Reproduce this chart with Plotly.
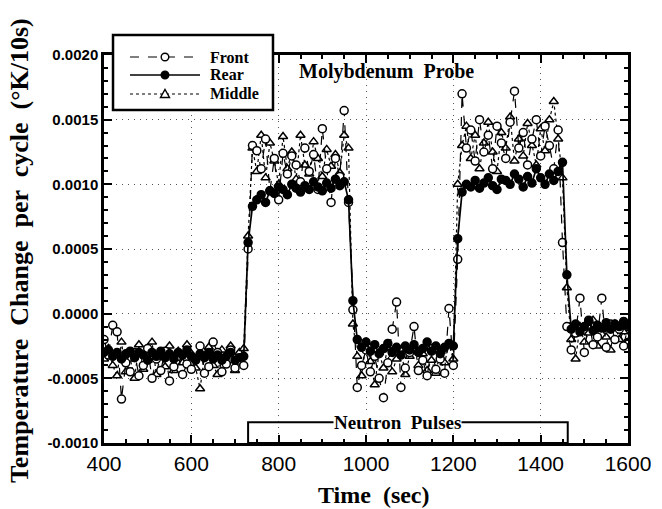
import plotly.graph_objects as go

time_s = list(range(400, 1601, 10))

front = [
    -0.00020, -0.00032, -0.00009, -0.00014, -0.00066, -0.00038, -0.00045, -0.00030, -0.00048, -0.00040,
    -0.00027, -0.00050, -0.00035, -0.00044, -0.00029, -0.00052, -0.00041, -0.00033, -0.00047, -0.00039,
    -0.00043, -0.00035, -0.00025, -0.00046, -0.00041, -0.00022, -0.00030, -0.00045, -0.00039, -0.00028,
    -0.00042, -0.00036, -0.00040,
    0.00050,
    0.00130, 0.00126, 0.00112, 0.00135, 0.00095, 0.00120, 0.00088, 0.00124, 0.00108, 0.00122,
    0.00115, 0.00102, 0.00128, 0.00110, 0.00123, 0.00096, 0.00143, 0.00112, 0.00086, 0.00120,
    0.00106, 0.00157,
    0.00086, 0.00003,
    -0.00057, -0.00040, -0.00028, -0.00045, -0.00033, -0.00050, -0.00065, -0.00038, -0.00012, 0.00009,
    -0.00057, -0.00042, -0.00030, -0.00010, -0.00044, -0.00036, -0.00048, -0.00027, -0.00043, -0.00035,
    -0.00046, 0.00004,
    -0.00040, 0.00042,
    0.00170, 0.00128, 0.00142, 0.00118, 0.00150, 0.00125, 0.00138, 0.00112, 0.00145, 0.00132,
    0.00120, 0.00148, 0.00172, 0.00128, 0.00140, 0.00115, 0.00135, 0.00150, 0.00122, 0.00145,
    0.00130, 0.00112, 0.00142,
    0.00055, -0.00010,
    -0.00028, -0.00015, 0.00012, -0.00030, -0.00005, -0.00024, -0.00018, 0.00012, -0.00026, -0.00008,
    -0.00020, -0.00012, -0.00025, -0.00010,
]

rear = [
    -0.00030, -0.00028, -0.00033, -0.00030, -0.00035, -0.00031, -0.00029, -0.00034, -0.00030, -0.00032,
    -0.00036, -0.00030, -0.00033, -0.00029, -0.00034, -0.00031, -0.00035, -0.00030, -0.00032, -0.00028,
    -0.00033, -0.00036, -0.00031, -0.00034, -0.00030, -0.00035, -0.00032, -0.00036, -0.00033, -0.00030,
    -0.00036, -0.00034, -0.00033,
    0.00055,
    0.00083, 0.00088, 0.00092, 0.00086, 0.00095, 0.00093, 0.00098, 0.00096, 0.00092, 0.00100,
    0.00097, 0.00094, 0.00099, 0.00096, 0.00102, 0.00098, 0.00095, 0.00101, 0.00097, 0.00104,
    0.00099, 0.00102,
    0.00088, 0.00010,
    -0.00020, -0.00026, -0.00022, -0.00029, -0.00024, -0.00031, -0.00027, -0.00023, -0.00030, -0.00026,
    -0.00032, -0.00025, -0.00028, -0.00024, -0.00030, -0.00027, -0.00022, -0.00029, -0.00025, -0.00031,
    -0.00026, -0.00023,
    -0.00025, 0.00058,
    0.00094, 0.00100, 0.00098, 0.00103, 0.00097, 0.00101, 0.00105, 0.00099, 0.00096, 0.00104,
    0.00103, 0.00100, 0.00108, 0.00104, 0.00098, 0.00106, 0.00101, 0.00112, 0.00105, 0.00100,
    0.00108, 0.00103, 0.00110,
    0.00117, 0.00030,
    -0.00012, -0.00008, -0.00014, -0.00010, -0.00006, -0.00013, -0.00009, -0.00011, -0.00007, -0.00012,
    -0.00008, -0.00010, -0.00006, -0.00009,
]

middle = [
    -0.00035, -0.00027, -0.00040, -0.00048, -0.00022, -0.00045, -0.00035, -0.00050, -0.00024, -0.00043,
    -0.00036, -0.00022, -0.00047, -0.00030, -0.00041, -0.00025, -0.00044, -0.00029, -0.00038, -0.00024,
    -0.00031, -0.00042, -0.00058, -0.00033, -0.00026, -0.00040, -0.00047, -0.00028, -0.00037, -0.00025,
    -0.00044, -0.00030, -0.00027,
    0.00060,
    0.00128, 0.00110, 0.00138, 0.00105, 0.00132, 0.00118, 0.00100, 0.00137, 0.00112, 0.00125,
    0.00104, 0.00138, 0.00115, 0.00108, 0.00133, 0.00120, 0.00106, 0.00127, 0.00114, 0.00123,
    0.00109, 0.00138,
    0.00128, -0.00008,
    -0.00033, -0.00048, -0.00022, -0.00037, -0.00055, -0.00030, -0.00042, -0.00026, -0.00045, -0.00035,
    -0.00028, -0.00047, -0.00033, -0.00025, -0.00040, -0.00031, -0.00044, -0.00036, -0.00046, -0.00029,
    -0.00038, -0.00024,
    -0.00035, 0.00100,
    0.00130, 0.00145, 0.00120, 0.00138, 0.00112, 0.00132, 0.00148, 0.00125, 0.00110, 0.00140,
    0.00128, 0.00152, 0.00118, 0.00135, 0.00122, 0.00147, 0.00130, 0.00115, 0.00143, 0.00126,
    0.00150, 0.00164, 0.00135,
    0.00105, 0.00020,
    -0.00020, -0.00035, -0.00010, -0.00022, -0.00015, -0.00005, -0.00025, -0.00012, -0.00018, -0.00028,
    -0.00008, -0.00020, -0.00014, -0.00022,
]

y_ticks = [-0.0010, -0.0005, 0.0, 0.0005, 0.0010, 0.0015, 0.0020]
y_tick_text = ["-0.0010", "-0.0005", "0.0000", "0.0005", "0.0010", "0.0015", "0.0020"]
x_ticks = [400, 600, 800, 1000, 1200, 1400, 1600]
pulse_start, pulse_end = 730, 1462
legend_names = ["Front", "Rear", "Middle"]

SERIF = "Liberation Serif"
SANS = "Liberation Sans"

series = [
    # name, values, line dash, marker symbol, marker fill
    ("Middle", middle, "dot", "triangle-up", "white"),
    ("Front", front, "dash", "circle", "white"),
    ("Rear", rear, "solid", "circle", "black"),
]

fig = go.Figure()
for name, vals, dash, sym, fill in series:
    fig.add_trace(go.Scatter(
        x=time_s, y=vals, name=name, mode="lines+markers", showlegend=False,
        line=dict(color="black", width=1.7 if dash == "solid" else 1.2, dash=dash),
        marker=dict(symbol=sym, size=8, color=fill, line=dict(color="black", width=1.5)),
    ))

# Neutron pulse bracket
fig.add_shape(type="rect", xref="x", yref="y", x0=pulse_start, x1=pulse_end,
              y0=-0.0010, y1=-0.00084, line=dict(color="black", width=2), fillcolor="rgba(0,0,0,0)")
fig.add_annotation(x=1073, y=-0.00084, xref="x", yref="y", text="Neutron  Pulses",
                   showarrow=False, bgcolor="white", borderpad=0, yanchor="middle",
                   font=dict(family=SERIF, size=19, color="black", weight="bold"))
fig.add_annotation(x=1048, y=0.00187, xref="x", yref="y", text="Molybdenum  Probe",
                   showarrow=False, yanchor="middle",
                   font=dict(family=SERIF, size=20, color="black", weight="bold"))

# Axis titles
fig.add_annotation(x=-0.160, y=0.495, xref="paper", yref="paper", textangle=-90,
                   xanchor="center", yanchor="middle",
                   text="Temperature  Change  per  cycle  (°K/10s)", showarrow=False,
                   font=dict(family=SERIF, size=26, color="black", weight="bold"))
fig.add_annotation(x=0.515, y=-0.134, xref="paper", yref="paper", text="Time  (sec)",
                   xanchor="center", yanchor="middle",
                   showarrow=False, font=dict(family=SERIF, size=24, color="black", weight="bold"))

# Hand-drawn legend box (paper coords)
fig.add_shape(type="rect", xref="paper", yref="paper", x0=0.0172, x1=0.3225, y0=0.858, y1=1.0515,
              line=dict(color="black", width=2.5), fillcolor="white", layer="above")
row_y = [0.9948, 0.9485, 0.8995]
line_x0, line_x1, mark_x, text_x = 0.0496, 0.1832, 0.1164, 0.1985
legend_style = {"Front": ("dash", "circle", "white"),
                "Rear": ("solid", "circle", "black"),
                "Middle": ("dot", "triangle", "white")}
for name, ry in zip(legend_names, row_y):
    dash, sym, fill = legend_style[name]
    fig.add_shape(type="line", xref="paper", yref="paper", x0=line_x0, x1=line_x1, y0=ry, y1=ry,
                  line=dict(color="black", width=1.7 if dash == "solid" else 1.2, dash=dash), layer="above")
    if sym == "circle":
        fig.add_shape(type="circle", xref="paper", yref="paper", xsizemode="pixel", ysizemode="pixel",
                      xanchor=mark_x, yanchor=ry, x0=-3.8, x1=3.8, y0=-3.8, y1=3.8,
                      line=dict(color="black", width=1.4), fillcolor=fill, layer="above")
    else:
        fig.add_shape(type="path", xref="paper", yref="paper", xsizemode="pixel", ysizemode="pixel",
                      xanchor=mark_x, yanchor=ry, path="M-4.5,-3.5 L4.5,-3.5 L0,4.5 Z",
                      line=dict(color="black", width=1.4), fillcolor=fill, layer="above")
    fig.add_annotation(x=text_x, y=ry, xref="paper", yref="paper", text=name, showarrow=False,
                       xanchor="left", yanchor="middle",
                       font=dict(family=SERIF, size=16, color="black", weight="bold"))

axis_common = dict(
    showline=True, linecolor="black", linewidth=2.5, mirror="ticks",
    ticks="inside", ticklen=8, tickwidth=1.5, tickcolor="black",
    showgrid=True, gridcolor="#555555", griddash="1px,5px", gridwidth=1,
    zeroline=False,
)
fig.update_xaxes(range=[400, 1600], tickvals=x_ticks,
                 minor=dict(dtick=50, ticks="inside", ticklen=4, tickcolor="black", showgrid=False),
                 tickfont=dict(family=SANS, size=21, color="black"), **axis_common)
fig.update_yaxes(range=[-0.0010, 0.0020], tickvals=y_ticks, ticktext=y_tick_text,
                 minor=dict(dtick=0.0001, ticks="inside", ticklen=4, tickcolor="black", showgrid=False),
                 tickfont=dict(family=SANS, size=15, color="black", weight="bold"), **axis_common)

fig.update_layout(
    width=662, height=509,
    margin=dict(l=104, r=34, t=55, b=66),
    plot_bgcolor="white", paper_bgcolor="white",
    showlegend=False,
)

fig.write_html("out.html")
